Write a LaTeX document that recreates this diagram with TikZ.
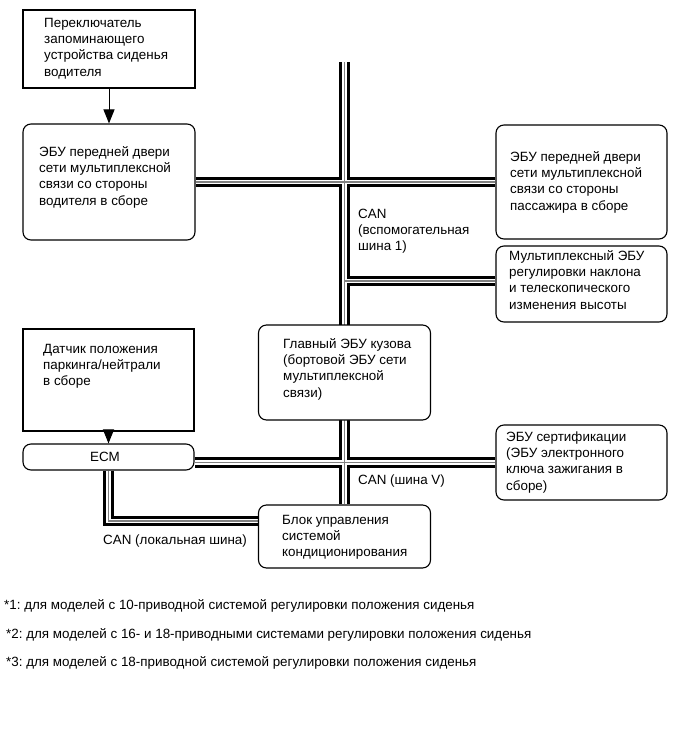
\documentclass[tikz,border=0pt]{standalone}
\usepackage{fontspec}
\setmainfont{Liberation Sans}
\usetikzlibrary{arrows.meta,backgrounds}
\newcommand\fl{\rule{0pt}{11pt}}
\frenchspacing
\begin{document}
\begin{tikzpicture}[x=1pt,y=-1pt,
  box/.style={draw=black, line width=1.1pt, fill=white, inner sep=0pt},
  rbox/.style={box, rounded corners=8pt},
  txt/.style={anchor=north west, inner sep=0pt, align=left, font=\fontsize{13.4pt}{16.3pt}\selectfont},
  arr/.style={-{Triangle[length=14pt,width=11pt]}, line width=1pt},
]
\useasboundingbox (0,0) rectangle (689,756);

% boxes
\node[box,  minimum width=172pt, minimum height=78pt]  (sw)   at (109,49) {};
\node[rbox, minimum width=172pt, minimum height=116pt] (drv)  at (109,182) {};
\node[rbox, minimum width=171pt, minimum height=114pt] (pas)  at (581.5,182) {};
\node[rbox, minimum width=171pt, minimum height=76pt]  (mux)  at (581.5,284) {};
\node[rbox, minimum width=172pt, minimum height=95pt]  (main) at (344.5,372.5) {};
\node[box,  minimum width=171pt, minimum height=102pt] (sens) at (108.5,380) {};
\node[rbox, minimum width=171pt, minimum height=26pt]  (ecm)  at (108.5,457) {};
\node[rbox, minimum width=171pt, minimum height=75pt]  (cert) at (581.5,462.5) {};
\node[rbox, minimum width=172pt, minimum height=63pt]  (ac)   at (344.5,536.5) {};

% bus junction coordinates
\coordinate (btop) at (344.5,62);
\coordinate (jmux) at (344.5,281);
\coordinate (lcorner) at (108.5,521);

\begin{scope}[on background layer]
\fill[white] (0,0) rectangle (689,756);
\foreach \w/\c in {10.5/black,4.5/white,1.5/gray}{
  \draw[line width=\w pt, draw=\c]
    (btop) -- (ac.north)
    (drv.east) -- (pas.west)
    (jmux) -- (jmux -| mux.west)
    (cert.west) -- (cert.west -| ecm.east)
    (ecm.south -| lcorner) -- (lcorner) -- (lcorner -| ac.west);
}
\end{scope}

% arrows
\draw[arr] (sw) -- (drv);
\draw[arr] (sens) -- (ecm);

% texts
\node[txt] (swT)   at (44,16)   {\fl Переключатель\\запоминающего\\устройства сиденья\\водителя};
\node[txt] (drvT)  at (39,145)  {\fl ЭБУ передней двери\\сети мультиплексной\\связи со стороны\\водителя в сборе};
\node[txt] (pasT)  at (510,150) {\fl ЭБУ передней двери\\сети мультиплексной\\связи со стороны\\пассажира в сборе};
\node[txt] (muxT)  at (509,249) {\fl Мультиплексный ЭБУ\\регулировки наклона\\и телескопического\\изменения высоты};
\node[txt] (canA)  at (358,207) {\fl CAN\\(вспомогательная\\шина 1)};
\node[txt] (mainT) at (283,337) {\fl Главный ЭБУ кузова\\(бортовой ЭБУ сети\\мультиплексной\\связи)};
\node[txt] (sensT) at (43,342)  {\fl Датчик положения\\паркинга/нейтрали\\в сборе};
\node[anchor=center, inner sep=0pt, font=\fontsize{13.4pt}{16.3pt}\selectfont] (ecmT) at (105,457) {ECM};
\node[txt] (certT) at (506,430) {\fl ЭБУ сертификации\\(ЭБУ электронного\\ключа зажигания в\\сборе)};
\node[txt] (canV)  at (358,473) {\fl CAN (шина V)};
\node[txt] (acT)   at (282,513) {\fl Блок управления\\системой\\кондиционирования};
\node[txt] (canL)  at (103,533) {\fl CAN (локальная шина)};
\node[txt] (fn1)   at (4,598)   {\fl *1: для моделей с 10-приводной системой регулировки положения сиденья};
\node[txt] (fn2)   at (6,627)   {\fl *2: для моделей с 16- и 18-приводными системами регулировки положения сиденья};
\node[txt] (fn3)   at (6,655)   {\fl *3: для моделей с 18-приводной системой регулировки положения сиденья};
\end{tikzpicture}
\end{document}
